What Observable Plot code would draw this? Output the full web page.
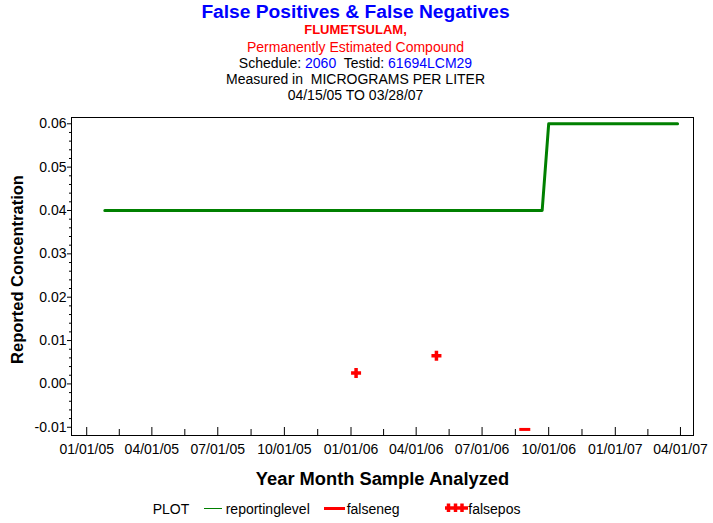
<!DOCTYPE html>
<html>
<head>
<meta charset="utf-8">
<script src="https://cdn.jsdelivr.net/npm/d3@7"></script>
<script src="https://cdn.jsdelivr.net/npm/@observablehq/plot@0.6"></script>
<style>
  body { margin: 0; background: #fff; font-family: "Liberation Sans", Arial, sans-serif; }
  #page { position: relative; width: 713px; height: 523px; overflow: hidden; background: #fff; }
  .t { position: absolute; left: 0; width: 711px; text-align: center; line-height: 1; white-space: pre; }
  .l { position: absolute; font-size: 14px; line-height: 1; white-space: pre; color: #000; }
  #chart { position: absolute; left: 0; top: 110px; }
</style>
</head>
<body>
<div id="page">
  <div class="t" style="top:2.2px;font-size:19.2px;font-weight:bold;color:#0000ff">False Positives &amp; False Negatives</div>
  <div class="t" style="top:23.3px;font-size:13px;font-weight:bold;color:#ff0000">FLUMETSULAM,</div>
  <div class="t" style="top:39.9px;font-size:14px;color:#ff0000">Permanently Estimated Compound</div>
  <div class="t" style="top:55.9px;font-size:14px;color:#000">Schedule: <span style="color:#0000ff">2060</span>  Testid: <span style="color:#0000ff">61694LCM29</span></div>
  <div class="t" style="top:71.5px;font-size:14px;color:#000">Measured in  MICROGRAMS PER LITER</div>
  <div class="t" style="top:87.5px;font-size:14px;color:#000">04/15/05 TO 03/28/07</div>
  <div id="chart"></div>
  <div class="l" style="left:152.7px;top:502px">PLOT</div>
  <div style="position:absolute;left:204px;top:508px;width:18px;height:1px;background:#008000"></div>
  <div class="l" style="left:225.7px;top:502px">reportinglevel</div>
  <div style="position:absolute;left:324px;top:507px;width:21px;height:3px;background:#ff0000"></div>
  <div class="l" style="left:346.7px;top:502px">falseneg</div>
  <svg style="position:absolute;left:440px;top:498px" width="32" height="20">
    <g stroke="#ff0000" stroke-width="3.5" fill="none">
      <line x1="5" y1="10" x2="28" y2="10"></line>
      <line x1="8.5" y1="5.5" x2="8.5" y2="14"></line>
      <line x1="15.5" y1="5.5" x2="15.5" y2="14"></line>
      <line x1="22" y1="5.5" x2="22" y2="14"></line>
    </g>
  </svg>
  <div class="l" style="left:468.3px;top:502px">falsepos</div>
</div>
<script>
// ---- data ----
const reportingDates = ["2005-01-26", "2006-09-22", "2006-10-01", "2007-03-28"];
const reportingLevels = [0.04, 0.04, 0.06, 0.06];
const falseposDates = ["2006-01-08", "2006-04-29"];
const falseposValues = [0.0025, 0.0065];
const falsenegDates = ["2006-08-29"];
const falsenegValues = [-0.0105];
const xTickLabels = ["01/01/05", "04/01/05", "07/01/05", "10/01/05", "01/01/06",
                     "04/01/06", "07/01/06", "10/01/06", "01/01/07", "04/01/07"];
const yTickValues = [-0.01, 0.00, 0.01, 0.02, 0.03, 0.04, 0.05, 0.06];
const xDomain = ["2004-12-11", "2007-04-19"];
const yDomain = [-0.0119, 0.06145];

const parseISO = d3.utcParse("%Y-%m-%d");
const parseTick = d3.utcParse("%m/%d/%y");

const reporting = reportingDates.map((d, i) => ({date: parseISO(d), value: reportingLevels[i]}));
const falsepos = falseposDates.map((d, i) => ({date: parseISO(d), value: falseposValues[i]}));
const falseneg = falsenegDates.map((d, i) => ({date: parseISO(d), value: falsenegValues[i]}));

const xMajor = xTickLabels.map(parseTick);
const xMinor = xMajor.slice(1).map((d, i) => new Date((+d + +xMajor[i]) / 2));
const yMinor = d3.range(-0.008, 0.0595, 0.002)
  .map(v => Math.round(v * 1000) / 1000)
  .filter(v => !yTickValues.some(t => Math.abs(t - v) < 1e-9));

const plusSymbol = {
  draw(ctx, size) {
    const r = Math.sqrt(size / Math.PI);
    ctx.moveTo(-r, 0); ctx.lineTo(r, 0);
    ctx.moveTo(0, -r); ctx.lineTo(0, r);
  }
};
const dashSymbol = {
  draw(ctx, size) {
    const r = Math.sqrt(size / Math.PI);
    ctx.moveTo(-r, 0); ctx.lineTo(r, 0);
  }
};

const chart = Plot.plot({
  width: 713,
  height: 380,
  marginLeft: 71,
  marginRight: 20,
  marginTop: 7,
  marginBottom: 55,
  style: {fontFamily: '"Liberation Sans", Arial, sans-serif', fontSize: "14px", color: "#000", background: "#fff", overflow: "visible"},
  x: {type: "utc", domain: xDomain.map(parseISO), axis: null, label: null},
  y: {domain: yDomain, axis: null, label: null},
  marks: [
    Plot.frame({stroke: "#000"}),
    Plot.ruleX(xMajor, {x: d => d, y1: yDomain[0], y2: yDomain[0], insetBottom: 8, stroke: "#000"}),
    Plot.ruleX(xMinor, {x: d => d, y1: yDomain[0], y2: yDomain[0], insetBottom: 6, stroke: "#000"}),
    Plot.axisX(xMajor, {tickSize: 0, tickPadding: 9, tickFormat: d3.utcFormat("%m/%d/%y"), fontSize: 14, label: null}),
    Plot.axisY(yTickValues, {tickSize: 4, tickPadding: 1, tickFormat: d => d.toFixed(2), fontSize: 14, label: null}),
    Plot.axisY(yMinor, {tickSize: 2, tickFormat: () => "", label: null}),
    Plot.line(reporting, {x: "date", y: "value", stroke: "#008000", strokeWidth: 3}),
    Plot.dot(falsepos, {x: "date", y: "value", symbol: plusSymbol, r: 5, fill: "none", stroke: "#ff0000", strokeWidth: 3.5}),
    Plot.dot(falseneg, {x: "date", y: "value", symbol: dashSymbol, r: 5.5, fill: "none", stroke: "#ff0000", strokeWidth: 3}),
    Plot.text(["Reported Concentration"], {text: d => d, frameAnchor: "left", textAnchor: "middle", lineAnchor: "middle", dx: -54, dy: -7, rotate: -90, fontSize: 16.5, fontWeight: "bold"}),
    Plot.text(["Year Month Sample Analyzed"], {text: d => d, frameAnchor: "bottom", textAnchor: "middle", lineAnchor: "middle", dy: 44, fontSize: 18.3, fontWeight: "bold"})
  ]
});
document.getElementById("chart").appendChild(chart);
</script>
</body>
</html>
